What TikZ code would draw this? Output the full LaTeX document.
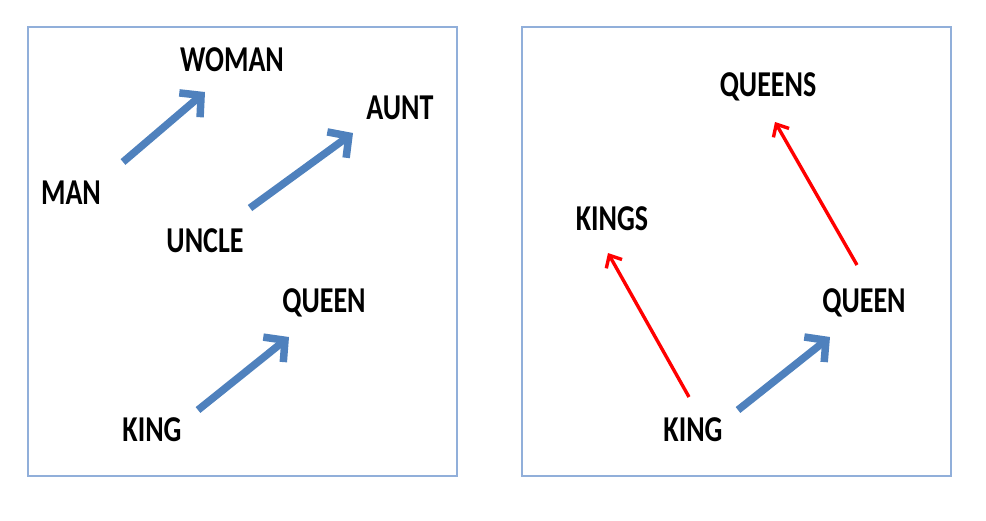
\documentclass[tikz,border=0pt]{standalone}
\usepackage{fontspec}
\setmainfont{Carlito}
\usetikzlibrary{arrows.meta}
\definecolor{boxblue}{RGB}{145,175,218}
\definecolor{arrblue}{RGB}{79,129,189}
\newcommand{\wordtxt}[1]{\scalebox{1}[1.3]{\bfseries #1}}
\tikzset{
  panel/.style={draw=boxblue, line width=1.5pt},
  word/.style={inner sep=0pt, font=\fontsize{28}{30}\selectfont},
  bluearr/.style={draw=arrblue, line width=7.5pt, -{Straight Barb[length=15pt,width=32pt]}},
  redarr/.style={draw=red, line width=3.4pt, -{Straight Barb[length=10pt,width=18pt]}}
}
\begin{document}
\begin{tikzpicture}[x=1pt,y=-1pt]
\useasboundingbox (0,0) rectangle (986,520);
\draw[panel] (28,27) rectangle (457,476);
\draw[panel] (522,27) rectangle (951,476);
% left panel
\node[word] (woman) at (232,60) {\wordtxt{WOMAN}};
\node[word] (aunt) at (400,108) {\wordtxt{AUNT}};
\node[word] (man) at (71,193) {\wordtxt{MAN}};
\node[word] (uncle) at (205,241) {\wordtxt{UNCLE}};
\node[word] (queenL) at (324,303) {\wordtxt{QUEEN}};
\node[word] (kingL) at (152,430) {\wordtxt{KING}};
\coordinate (a1s) at (123,162); \coordinate (a1e) at (205,92);
\coordinate (a2s) at (250,208); \coordinate (a2e) at (353,133);
\coordinate (a3s) at (198,410); \coordinate (a3e) at (289,337);
\draw[bluearr] (a1s) -- (a1e);
\draw[bluearr] (a2s) -- (a2e);
\draw[bluearr] (a3s) -- (a3e);
% right panel
\node[word] (queens) at (768,87) {\wordtxt{QUEENS}};
\node[word] (kings) at (612,219) {\wordtxt{KINGS}};
\node[word] (queenR) at (864,303) {\wordtxt{QUEEN}};
\node[word] (kingR) at (693,430) {\wordtxt{KING}};
\coordinate (b1s) at (738,410); \coordinate (b1e) at (830,337);
\coordinate (r1s) at (689,397); \coordinate (r1e) at (608,253);
\coordinate (r2s) at (857,265); \coordinate (r2e) at (775,122);
\draw[bluearr] (b1s) -- (b1e);
\draw[redarr] (r1s) -- (r1e);
\draw[redarr] (r2s) -- (r2e);
\end{tikzpicture}
\end{document}
